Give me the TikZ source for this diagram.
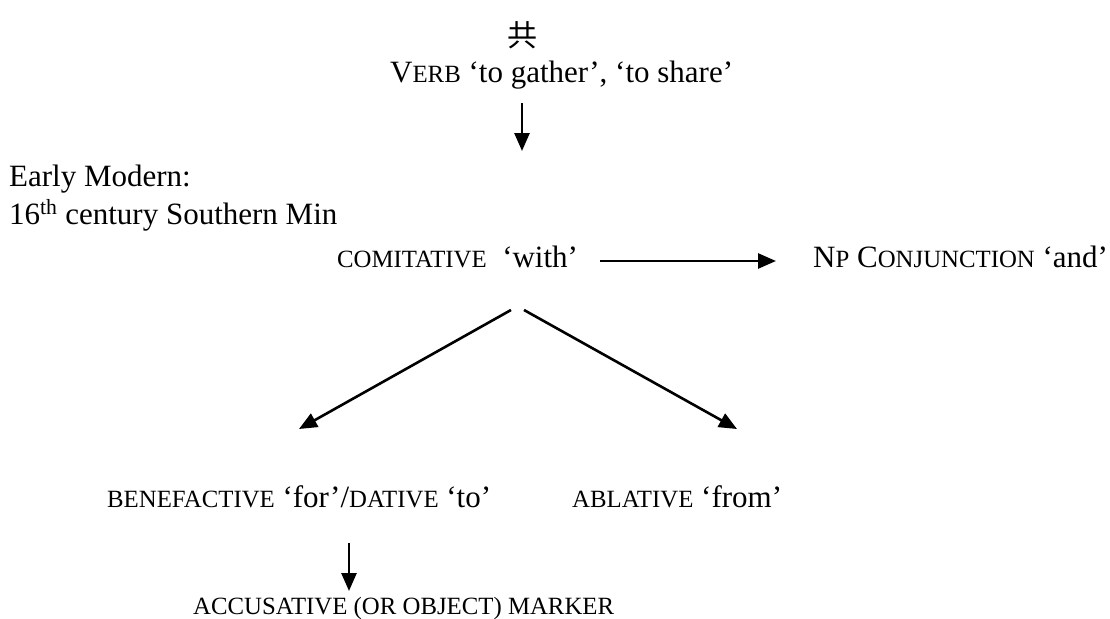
\documentclass[tikz,border=0pt]{standalone}
\usepackage{fontspec}
\setmainfont{Liberation Serif}
\newfontfamily\cjk{Noto Sans CJK SC}
\usetikzlibrary{arrows.meta}
\newcommand\smc[1]{{\fontsize{24.8}{24.8}\selectfont #1}}
\begin{document}
\begin{tikzpicture}[x=1pt,y=-1pt,
  lbl/.style={inner sep=0pt, anchor=base west, font=\fontsize{31}{37}\selectfont},
  conn/.style={line width=2.6pt, -{Triangle[length=18pt,width=15pt]}}]
\useasboundingbox (0,0) rectangle (1110,618);
\node[inner sep=0pt, font=\fontsize{30}{30}\selectfont\cjk] (gong) at (522,35) {共};
\node[lbl] (verb) at (390,82) {V\smc{ERB} ‘to gather’, ‘to share’};
\node[lbl] (em) at (9,186) {Early Modern:};
\node[lbl] (cent) at (9,224) {16\textsuperscript{th} century Southern Min};
\node[lbl] (com) at (337,267) {\smc{COMITATIVE}\ \ ‘with’};
\node[lbl] (np) at (813,267) {N\smc{P} C\smc{ONJUNCTION} ‘and’};
\node[lbl] (ben) at (107,507) {\smc{BENEFACTIVE} ‘for’/\smc{DATIVE} ‘to’};
\node[lbl] (abl) at (572,507) {\smc{ABLATIVE} ‘from’};
\node[lbl] (acc) at (193,614) {\smc{ACCUSATIVE (OR OBJECT) MARKER}};
\coordinate (a1s) at (522,103); \coordinate (a1e) at (522,151);
\coordinate (a2s) at (600,261); \coordinate (a2e) at (776,261);
\coordinate (a3s) at (511,310); \coordinate (a3e) at (299,429);
\coordinate (a4s) at (524,310); \coordinate (a4e) at (737,429);
\coordinate (a5s) at (349,543); \coordinate (a5e) at (349,591);
\draw[conn] (a1s) -- (a1e);
\draw[conn] (a2s) -- (a2e);
\draw[conn] (a3s) -- (a3e);
\draw[conn] (a4s) -- (a4e);
\draw[conn] (a5s) -- (a5e);
\end{tikzpicture}
\end{document}
